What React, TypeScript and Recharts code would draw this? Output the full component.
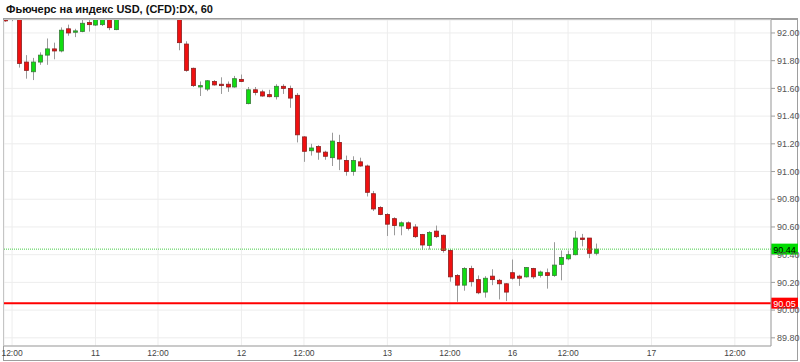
import React from "react";
import {
  ComposedChart,
  Bar,
  XAxis,
  YAxis,
  CartesianGrid,
  ReferenceLine,
} from "recharts";

// часовые свечи DX, по индексу бара
const opens = [
  92.15, 92.11, 92.11, 91.79, 91.72, 91.79, 91.84, 91.885, 91.87, 92.03,
  92.005, 92.01, 92.075, 92.057, 92.06, 92.12, 92.024, 92.12, 92.18, 92.22,
  92.25, 92.2, 92.24, 92.19, 92.16, 92.12, 91.92, 91.745, 91.61, 91.595,
  91.65, 91.63, 91.63, 91.61, 91.665, 91.49, 91.59, 91.575, 91.555, 91.54,
  91.615, 91.6, 91.55, 91.25, 91.15, 91.18, 91.14, 91.1, 91.21, 91.08,
  91.0, 91.07, 91.04, 90.84, 90.74, 90.69, 90.66, 90.607, 90.63, 90.6,
  90.545, 90.467, 90.57, 90.54, 90.43, 90.25, 90.18, 90.3, 90.22, 90.13,
  90.245, 90.215, 90.19, 90.27, 90.245, 90.24, 90.3, 90.25, 90.27, 90.25,
  90.33, 90.37, 90.4, 90.52, 90.52, 90.41,
];
const highs = [
  92.17, 92.15, 92.12, 91.84, 91.82, 91.86, 91.96, 91.93, 92.04, 92.06,
  92.03, 92.12, 92.1, 92.14, 92.16, 92.14, 92.15, 92.2, 92.24, 92.27,
  92.28, 92.26, 92.25, 92.22, 92.18, 92.15, 91.94, 91.75, 91.65, 91.66,
  91.66, 91.68, 91.65, 91.69, 91.7, 91.61, 91.61, 91.59, 91.59, 91.63,
  91.63, 91.62, 91.566, 91.255, 91.2, 91.19, 91.15, 91.28, 91.265, 91.115,
  91.11, 91.1, 91.05, 90.86, 90.75, 90.7, 90.67, 90.64, 90.64, 90.62,
  90.55, 90.57, 90.61, 90.545, 90.44, 90.26, 90.31, 90.32, 90.25, 90.245,
  90.295, 90.225, 90.195, 90.365, 90.255, 90.31, 90.305, 90.285, 90.3, 90.49,
  90.43, 90.43, 90.57, 90.55, 90.52, 90.48,
];
const lows = [
  92.08, 92.085, 91.75, 91.67, 91.66, 91.77, 91.77, 91.81, 91.86, 91.98,
  91.97, 92.005, 92.01, 92.05, 92.05, 92.02, 92.02, 92.11, 92.15, 92.19,
  92.18, 92.17, 92.16, 92.13, 92.11, 91.875, 91.72, 91.61, 91.545, 91.58,
  91.62, 91.56, 91.575, 91.605, 91.645, 91.485, 91.55, 91.54, 91.535, 91.52,
  91.56, 91.46, 91.21, 91.07, 91.115, 91.085, 91.085, 91.04, 91.01, 90.97,
  90.97, 91.035, 90.82, 90.715, 90.685, 90.535, 90.54, 90.54, 90.575, 90.52,
  90.435, 90.437, 90.52, 90.415, 90.205, 90.06, 90.14, 90.17, 90.115, 90.09,
  90.18, 90.077, 90.065, 90.22, 90.175, 90.235, 90.225, 90.235, 90.155, 90.24,
  90.215, 90.36, 90.395, 90.46, 90.375, 90.395,
];
const closes = [
  92.087, 92.13, 91.78, 91.73, 91.79, 91.84, 91.885, 91.87, 92.02, 92.0,
  92.015, 92.07, 92.06, 92.11, 92.13, 92.038, 92.12, 92.18, 92.22, 92.25,
  92.2, 92.24, 92.19, 92.16, 92.12, 91.93, 91.73, 91.62, 91.62, 91.655,
  91.625, 91.62, 91.61, 91.67, 91.65, 91.59, 91.57, 91.545, 91.54, 91.615,
  91.6, 91.53, 91.265, 91.146, 91.17, 91.14, 91.11, 91.22, 91.09, 91.0,
  91.08, 91.04, 90.85, 90.73, 90.69, 90.62, 90.61, 90.63, 90.59, 90.53,
  90.47, 90.56, 90.53, 90.43, 90.24, 90.18, 90.3, 90.205, 90.125, 90.23,
  90.22, 90.19, 90.13, 90.23, 90.23, 90.307, 90.24, 90.275, 90.25, 90.325,
  90.38, 90.4, 90.52, 90.51, 90.41, 90.44,
];

const xTickIdx = [1, 13, 22, 34, 43, 55, 64, 73, 81, 93, 105];
const xTickLabels = ["12:00", "11", "12:00", "12", "12:00", "13", "12:00", "16", "12:00", "17", "12:00"];
const yTicks = [89.8, 90.0, 90.2, 90.4, 90.6, 90.8, 91.0, 91.2, 91.4, 91.6, 91.8, 92.0];

const lastPrice = 90.44;
const supportPrice = 90.05;

const data = opens.map((o, i) => ({
  i,
  open: o,
  high: highs[i],
  low: lows[i],
  close: closes[i],
  range: [lows[i], highs[i]],
}));

const FONT = "'Liberation Sans', Arial, sans-serif";

function Candle(props: any) {
  const { x, y, width, height, payload } = props;
  if (!payload || height == null) return null;
  const { open, close, high, low } = payload;
  const ppu = height / (high - low);
  const yOf = (v: number) => y + (high - v) * ppu;
  const up = close >= open;
  const top = yOf(Math.max(open, close));
  const bot = yOf(Math.min(open, close));
  const cx = Math.round(x + width / 2) + 0.5;
  return (
    <g>
      <line x1={cx} x2={cx} y1={y} y2={y + height} stroke="#9a9a9a" strokeWidth={1} />
      <rect
        x={cx - 2}
        y={top}
        width={4}
        height={Math.max(bot - top, 1)}
        fill={up ? "#11dd11" : "#f01010"}
        stroke={up ? "#3a7a3a" : "#8a2020"}
        strokeWidth={0.8}
      />
    </g>
  );
}

function PriceTag(props: any) {
  const { viewBox, bg, fg, text } = props;
  if (!viewBox) return null;
  const left = viewBox.x + viewBox.width;
  const y = viewBox.y;
  return (
    <g>
      <rect x={left} y={y - 5.5} width={27} height={11} fill={bg} />
      <text
        x={left + 13.5}
        y={y + 3.5}
        textAnchor="middle"
        fontSize={9}
        fontFamily={FONT}
        fill={fg}
      >
        {text}
      </text>
    </g>
  );
}

export default function App() {
  return (
    <div style={{ position: "absolute", left: 0, top: 0, width: 800, height: 362, background: "#fff", fontFamily: FONT }}>
      <div
        style={{
          position: "absolute",
          left: 6,
          top: 3,
          fontSize: 11,
          fontWeight: "bold",
          color: "#111",
          whiteSpace: "nowrap",
        }}
      >
        Фьючерс на индекс USD, (CFD):DX, 60
      </div>
      {/* рамка */}
      <div style={{ position: "absolute", left: 3, top: 18, width: 795, height: 2, background: "#9e9e9e" }} />
      <div style={{ position: "absolute", left: 3, top: 18, width: 1, height: 343, background: "#9e9e9e" }} />
      <div style={{ position: "absolute", left: 797, top: 18, width: 1, height: 343, background: "#9e9e9e" }} />
      <div style={{ position: "absolute", left: 3, top: 360, width: 795, height: 1, background: "#9e9e9e" }} />
      <div style={{ position: "absolute", left: 0, top: 0 }}>
        <ComposedChart
          width={800}
          height={362}
          data={data}
          margin={{ top: 20, right: 0, left: 4, bottom: 0 }}
        >
          <CartesianGrid stroke="#ededed" />
          <XAxis
            type="number"
            dataKey="i"
            domain={[-0.16, 110.2]}
            allowDataOverflow
            ticks={xTickIdx}
            interval={0}
            tickFormatter={(v: number) => xTickLabels[xTickIdx.indexOf(v)] ?? ""}
            tick={{ fill: "#444", fontSize: 8.5, fontFamily: FONT }}
            tickLine={false}
            tickSize={2}
            tickMargin={2}
            axisLine={{ stroke: "#9e9e9e" }}
            height={16}
          />
          <YAxis
            orientation="right"
            type="number"
            domain={[89.741, 92.0935]}
            allowDataOverflow
            ticks={yTicks}
            interval={0}
            tickFormatter={(v: number) => v.toFixed(2)}
            tick={{ fill: "#555", fontSize: 9, fontFamily: FONT }}
            tickLine={{ stroke: "#9e9e9e" }}
            tickSize={4}
            tickMargin={2}
            axisLine={{ stroke: "#9e9e9e" }}
            width={29}
          />
          <Bar dataKey="range" barSize={5} shape={<Candle />} isAnimationActive={false} />
          <ReferenceLine
            y={lastPrice}
            stroke="#44cc44"
            strokeDasharray="1 1"
            label={<PriceTag bg="#00dd00" fg="#000" text={lastPrice.toFixed(2)} />}
          />
          <ReferenceLine
            y={supportPrice}
            stroke="#ff0000"
            strokeWidth={2}
            label={<PriceTag bg="#ff0000" fg="#fff" text={supportPrice.toFixed(2)} />}
          />
        </ComposedChart>
      </div>
    </div>
  );
}
